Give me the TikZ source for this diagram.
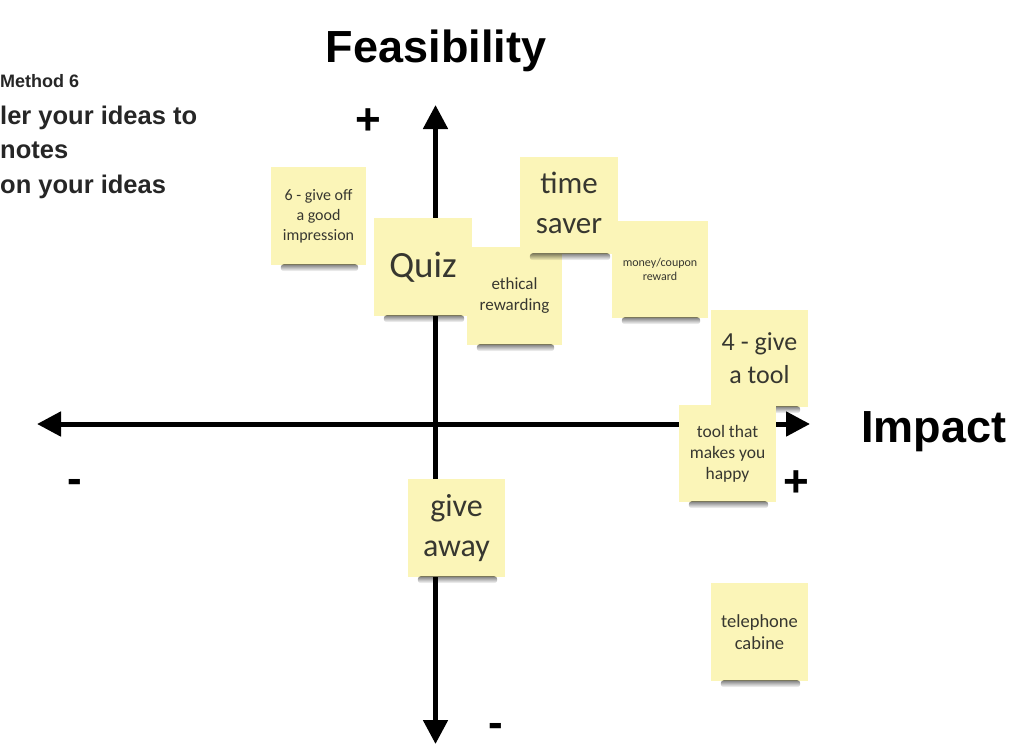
\documentclass[tikz,border=0pt]{standalone}
\usepackage{fontspec}
\setmainfont{Carlito}
\newfontfamily\headfont{Liberation Sans}
\usetikzlibrary{arrows.meta,fadings}

\definecolor{notefill}{RGB}{251,245,184}
\definecolor{notetext}{RGB}{55,55,48}
\tikzfading[name=shadowfade, top color=transparent!15, bottom color=transparent!100]

\begin{document}
\begin{tikzpicture}[x=1pt,y=-1pt,
  axis/.style={line width=5pt,-{Triangle[length=24pt,width=24pt]}},
  sticky/.style={fill=notefill,inner sep=0pt,align=center,text=notetext,
    minimum width=97pt,minimum height=97pt},
  heading/.style={font=\headfont\bfseries\fontsize{45}{50}\selectfont,inner sep=0pt},
  sign/.style={font=\headfont\bfseries\fontsize{44}{48}\selectfont,inner sep=0pt},
  intro/.style={font=\headfont\bfseries\fontsize{25.5}{28}\selectfont,inner sep=0pt,anchor=base west,text=black!85},
]
\newcommand\noteshadow[1]{%
  \fill[black,opacity=.6,path fading=shadowfade,rounded corners=3pt]
    ([xshift=10pt,yshift=1pt]#1.south west) rectangle ([xshift=-8pt,yshift=-6pt]#1.south east);}
\useasboundingbox[fill=white] (0,0) rectangle (1026,750);

% instructions in the upper left corner
\node[intro,font=\headfont\bfseries\fontsize{18}{20}\selectfont] (method) at (0,87) {Method 6};
\node[intro] (order) at (0,124) {ler your ideas to};
\node[intro] (notes) at (0,158) {notes};
\node[intro] (ideas) at (0,193) {on your ideas};

% axis titles
\node[heading,anchor=base] (feas) at (436,62) {Feasibility};
\node[heading,anchor=base west] (impact) at (861,442) {Impact};

% axes
\coordinate (origin) at (435.5,424);
\coordinate (top) at (435.5,105);
\coordinate (bottom) at (435.5,744);
\coordinate (left) at (37,424);
\coordinate (right) at (810,424);
\draw[axis] (origin) -- (top);
\draw[axis] (origin) -- (bottom);
\draw[axis] (origin) -- (left);
\draw[axis] (origin) -- (right);

% signs at the ends of the axes
\node[sign] (ptop) at (368,122) {+};
\node[sign,yshift=-6pt] (mleft) at (75,480) {-};
\node[sign] (pright) at (796,484) {+};
\node[sign,yshift=-6pt] (mbottom) at (496,724) {-};

% sticky notes
\node[sticky,minimum width=95pt,minimum height=98pt,font=\fontsize{16}{20}\selectfont] (six) at (318.5,216) {6 - give off\\a good\\impression};
\noteshadow{six}
\node[sticky,minimum width=98pt,minimum height=98pt,font=\fontsize{37}{40}\selectfont] (quiz) at (423,267) {Quiz};
\noteshadow{quiz}
\node[sticky,minimum width=95pt,minimum height=98pt,font=\fontsize{17}{21}\selectfont] (ethical) at (514.5,296) {ethical\\rewarding};
\noteshadow{ethical}
\node[sticky,minimum width=98pt,font=\fontsize{31}{40}\selectfont] (time) at (569,205.5) {\raisebox{4pt}{\begin{tabular}{@{}c@{}}time\\[-.5pt]saver\end{tabular}}};
\noteshadow{time}
\node[sticky,minimum width=96pt,font=\fontsize{12}{14}\selectfont] (money) at (660,269.5) {money/coupon\\reward};
\noteshadow{money}
\node[sticky,font=\fontsize{26}{33}\selectfont] (tool) at (759.5,358.5) {4 - give\\a tool};
\noteshadow{tool}
\node[sticky,font=\fontsize{17.5}{21}\selectfont] (happy) at (727.5,453.5) {tool that\\makes you\\happy};
\noteshadow{happy}
\node[sticky,minimum height=98pt,font=\fontsize{32}{40}\selectfont] (give) at (456.5,528) {give\\away};
\noteshadow{give}
\node[sticky,minimum height=98pt,font=\fontsize{18.5}{22}\selectfont] (tel) at (759.5,632) {telephone\\cabine};
\noteshadow{tel}
\end{tikzpicture}
\end{document}
